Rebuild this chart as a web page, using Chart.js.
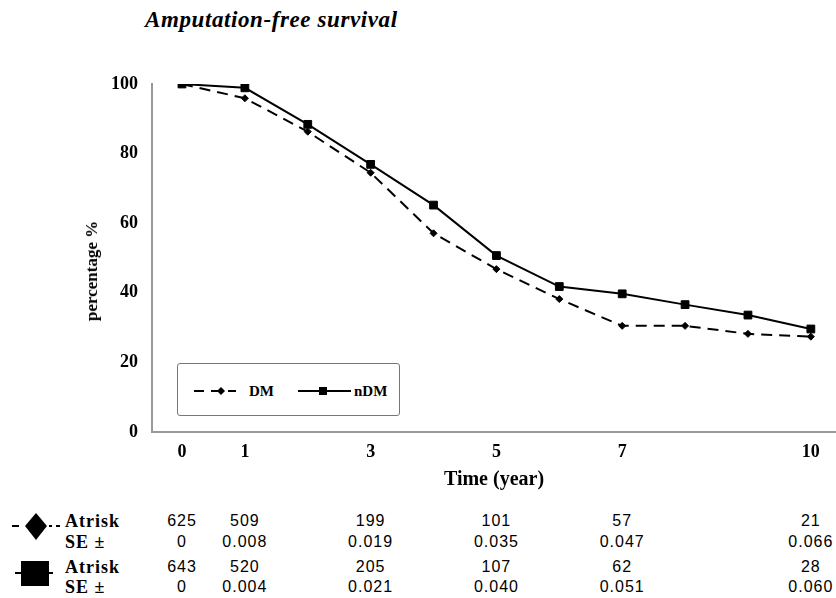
<!DOCTYPE html>
<html><head><meta charset="utf-8">
<script src="https://cdn.jsdelivr.net/npm/chart.js@4.4.0/dist/chart.umd.min.js"></script>
<style>
body{margin:0;background:#fff;}
#wrap{position:relative;width:836px;height:598px;overflow:hidden;background:#fff;}
#title{position:absolute;left:145px;top:7px;font:italic bold 23px "Liberation Serif","Times New Roman",serif;letter-spacing:0.6px;white-space:nowrap;color:#000;}
canvas{position:absolute;left:0;top:0;}
#ytitle{position:absolute;left:92px;top:271px;transform:translate(-50%,-50%) rotate(-90deg);font:bold 17px "Liberation Serif","Times New Roman",serif;white-space:nowrap;color:#000;}
#legend{position:absolute;left:177px;top:363px;width:221px;height:51px;border:1.5px solid #777;border-radius:3px;background:#fff;}
#legend svg{position:absolute;left:0;top:0;}
.lgt{position:absolute;top:17px;font:bold 15px "Liberation Serif","Times New Roman",serif;color:#000;line-height:20px;}
.lab{position:absolute;left:65px;font:bold 18px "Liberation Serif","Times New Roman",serif;letter-spacing:1px;line-height:20px;white-space:nowrap;color:#000;}
.val{position:absolute;font:16px "Liberation Sans",Arial,sans-serif;letter-spacing:1px;line-height:20px;white-space:nowrap;transform:translateX(-50%);color:#000;}
.sym{position:absolute;left:0;}
</style></head>
<body>
<div id="wrap">
  <div id="title">Amputation-free survival</div>
  <canvas id="c" width="836" height="500"></canvas>
  <div id="ytitle">percentage %</div>
  <div id="legend">
    <svg width="221" height="51">
      <line x1="16" y1="27" x2="58" y2="27" stroke="#000" stroke-width="2" stroke-dasharray="10,7"/>
      <polygon points="43,23 47,27 43,31 39,27" fill="#000"/>
      <line x1="120" y1="27" x2="173" y2="27" stroke="#000" stroke-width="2"/>
      <rect x="141" y="23" width="8" height="8" fill="#000"/>
    </svg>
    <div class="lgt" style="left:71px">DM</div>
    <div class="lgt" style="left:176px">nDM</div>
  </div>
  <svg class="sym" style="top:505px" width="70" height="42">
    <line x1="12" y1="21" x2="19" y2="21" stroke="#000" stroke-width="2"/>
    <polygon points="36,8 47,21 36,35 25,21" fill="#000"/>
    <line x1="49" y1="21" x2="52" y2="21" stroke="#000" stroke-width="2"/>
    <line x1="56" y1="21" x2="60" y2="21" stroke="#000" stroke-width="2"/>
  </svg>
  <svg class="sym" style="top:555px" width="70" height="40">
    <line x1="15" y1="18" x2="21" y2="18" stroke="#000" stroke-width="2"/>
    <rect x="21" y="6" width="28" height="25" fill="#000"/>
    <line x1="49" y1="18" x2="53" y2="18" stroke="#000" stroke-width="2"/>
  </svg>
  <div class="lab" style="top:511px">Atrisk</div>
  <div class="lab" style="top:532px">SE ±</div>
  <div class="lab" style="top:557px">Atrisk</div>
  <div class="lab" style="top:577px">SE ±</div>
  <div id="tbl"></div>
</div>
<script>
// ---- data ----
const years = [0, 1, 2, 3, 4, 5, 6, 7, 8, 9, 10];
const dmValues  = [100, 95.9, 86.3, 74.5, 57.1, 46.8, 38.2, 30.5, 30.5, 28.2, 27.4];
const ndmValues = [100, 98.9, 88.4, 76.9, 65.2, 50.7, 41.8, 39.7, 36.6, 33.6, 29.6];
const xTickValues = [0, 1, 3, 5, 7, 10];
const yTickValues = [0, 20, 40, 60, 80, 100];
const tableYears = [0, 1, 3, 5, 7, 10];
const dmAtRisk  = ['625', '509', '199', '101', '57', '21'];
const dmSE      = ['0', '0.008', '0.019', '0.035', '0.047', '0.066'];
const ndmAtRisk = ['643', '520', '205', '107', '62', '28'];
const ndmSE     = ['0', '0.004', '0.021', '0.040', '0.051', '0.060'];

const serif = "'Liberation Serif','Times New Roman',serif";

const chart = new Chart(document.getElementById('c'), {
  type: 'line',
  data: {
    datasets: [
      {
        label: 'DM',
        data: years.map((x, i) => ({x: x, y: dmValues[i]})),
        borderColor: '#000', backgroundColor: '#000',
        borderWidth: 2, borderDash: [11, 7],
        pointStyle: 'rectRot', pointRadius: 3.5, pointBorderWidth: 1,
        tension: 0, fill: false
      },
      {
        label: 'nDM',
        data: years.map((x, i) => ({x: x, y: ndmValues[i]})),
        borderColor: '#000', backgroundColor: '#000',
        borderWidth: 2,
        pointStyle: 'rect', pointRadius: 5.5, pointBorderWidth: 1,
        tension: 0, fill: false
      }
    ]
  },
  options: {
    responsive: false,
    animation: false,
    devicePixelRatio: 1,
    layout: {autoPadding: false, padding: {top: 84, right: 0, bottom: 0, left: 0}},
    plugins: {legend: {display: false}, tooltip: {enabled: false}},
    scales: {
      x: {
        type: 'linear', min: -0.477, max: 10.4,
        grid: {display: false, drawTicks: false},
        border: {display: true, color: '#999', width: 2},
        afterBuildTicks: s => { s.ticks = xTickValues.map(v => ({value: v})); },
        afterFit: s => { s.height = 68; s.paddingLeft = 0; s.paddingRight = 0; },
        ticks: {padding: 10, color: '#000', autoSkip: false, maxRotation: 0,
                font: {family: serif, weight: 'bold', size: 18}},
        title: {display: true, text: 'Time (year)', color: '#000',
                font: {family: serif, weight: 'bold', size: 20},
                padding: {top: 0, bottom: 8}}
      },
      y: {
        min: 0, max: 100,
        grid: {display: false, drawTicks: false},
        border: {display: true, color: '#999', width: 2},
        afterBuildTicks: s => { s.ticks = yTickValues.map(v => ({value: v})); },
        afterFit: s => { s.width = 152; s.paddingTop = 0; s.paddingBottom = 0; },
        ticks: {padding: 14, color: '#000',
                font: {family: serif, weight: 'bold', size: 18}}
      }
    }
  }
});

// ---- table positioned with the chart's x scale ----
const tbl = document.getElementById('tbl');
const rows = [[dmAtRisk, 511], [dmSE, 532], [ndmAtRisk, 557], [ndmSE, 577]];
rows.forEach(([vals, top]) => {
  vals.forEach((t, i) => {
    const d = document.createElement('div');
    d.className = 'val';
    d.textContent = t;
    d.style.top = top + 'px';
    d.style.left = chart.scales.x.getPixelForValue(tableYears[i]) + 'px';
    tbl.appendChild(d);
  });
});
</script>
</body></html>
